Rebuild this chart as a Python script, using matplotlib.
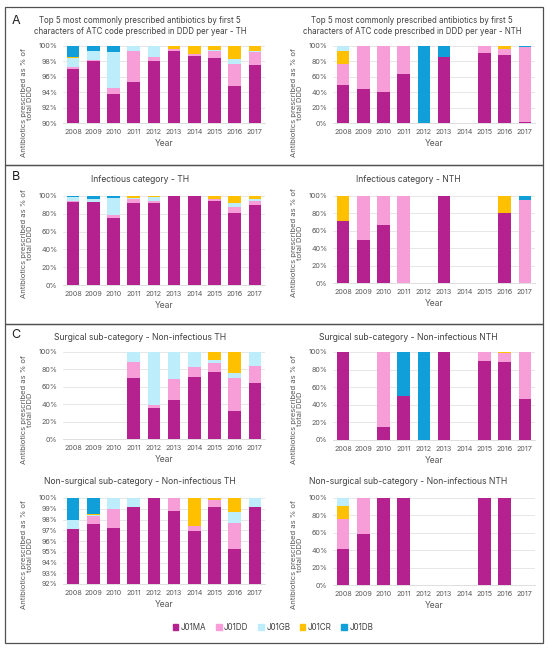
import matplotlib
matplotlib.use("Agg")
import matplotlib.pyplot as plt
import matplotlib.patches as mpatches
from matplotlib.ticker import FuncFormatter

plt.rcParams['font.family'] = ['Inter', 'DejaVu Sans']

# Dados
anos = ['2008', '2009', '2010', '2011', '2012', '2013', '2014', '2015', '2016', '2017']
codigos = ['J01MA', 'J01DD', 'J01GB', 'J01CR', 'J01DB']
cores = {'J01MA': '#B5218F', 'J01DD': '#F79ED9', 'J01GB': '#BDEDFA',
         'J01CR': '#FFC000', 'J01DB': '#109FD9'}

# A - TH (altura de cada segmento, % do DDD total)
a_th_ma = [97.05, 98.1, 93.75, 95.3, 98.1, 99.4, 98.7, 98.4, 94.8, 97.5]
a_th_dd = [0.25, 0.05, 0.75, 4.0, 0.5, 0.25, 0.2, 0.9, 2.9, 1.7]
a_th_gb = [1.2, 1.25, 4.7, 0.7, 1.4, 0.0, 0.0, 0.2, 0.6, 0.2]
a_th_cr = [0.1, 0.0, 0.0, 0.0, 0.0, 0.35, 1.1, 0.5, 1.7, 0.6]
a_th_db = [1.4, 0.6, 0.8, 0.0, 0.0, 0.0, 0.0, 0.0, 0.0, 0.0]

# A - NTH
a_nth_ma = [49.4, 43.7, 40.7, 63.6, 0, 85.7, 0, 90.9, 88.3, 1.0]
a_nth_dd = [27.6, 56.3, 59.3, 36.4, 0, 0, 0, 9.1, 7.7, 97.3]
a_nth_gb = [7.0, 0, 0, 0, 0, 0, 0, 0, 0, 0]
a_nth_cr = [16.0, 0, 0, 0, 0, 0, 0, 0, 4.0, 0]
a_nth_db = [0, 0, 0, 0, 100, 14.3, 0, 0, 0, 1.7]

# B - TH
b_th_ma = [93.7, 93.0, 75.7, 92.2, 92.2, 100, 100, 94.8, 81.0, 90.3]
b_th_dd = [1.1, 0.2, 3.0, 4.1, 1.8, 0, 0, 1.5, 7.0, 4.5]
b_th_gb = [3.7, 3.8, 19.1, 1.8, 5.3, 0, 0, 0.7, 3.7, 2.2]
b_th_cr = [0.5, 0, 0, 1.9, 0.7, 0, 0, 3.0, 8.3, 3.0]
b_th_db = [1.0, 3.0, 2.2, 0, 0, 0, 0, 0, 0, 0]

# B - NTH
b_nth_ma = [71.3, 50.0, 66.7, 0, 0, 100, 0, 0, 80.2, 0]
b_nth_dd = [0, 50.0, 33.3, 100, 0, 0, 0, 0, 0, 95.7]
b_nth_gb = [0, 0, 0, 0, 0, 0, 0, 0, 0, 0]
b_nth_cr = [28.7, 0, 0, 0, 0, 0, 0, 0, 19.8, 0]
b_nth_db = [0, 0, 0, 0, 0, 0, 0, 0, 0, 4.3]

# C - cirúrgico TH
cs_th_ma = [0, 0, 0, 69.8, 35.7, 45.3, 71.3, 77.1, 32.6, 64.7]
cs_th_dd = [0, 0, 0, 19.0, 3.4, 23.3, 12.0, 9.7, 37.9, 19.0]
cs_th_gb = [0, 0, 0, 11.2, 60.9, 31.4, 16.7, 3.9, 5.9, 16.3]
cs_th_cr = [0, 0, 0, 0, 0, 0, 0, 9.3, 23.6, 0]
cs_th_db = [0, 0, 0, 0, 0, 0, 0, 0, 0, 0]

# C - cirúrgico NTH
cs_nth_ma = [100, 0, 15.2, 49.8, 0, 100, 0, 89.4, 88.2, 46.8]
cs_nth_dd = [0, 0, 84.8, 0, 0, 0, 0, 10.6, 10.3, 53.2]
cs_nth_gb = [0, 0, 0, 0, 0, 0, 0, 0, 0, 0]
cs_nth_cr = [0, 0, 0, 0, 0, 0, 0, 0, 1.5, 0]
cs_nth_db = [0, 0, 0, 50.2, 100, 0, 0, 0, 0, 0]

# C - não cirúrgico TH
cn_th_ma = [97.1, 97.57, 97.2, 99.2, 100, 98.83, 96.95, 99.14, 95.26, 99.14]
cn_th_dd = [0, 0.71, 1.8, 0, 0, 1.17, 0.4, 0.64, 2.37, 0]
cn_th_gb = [0.84, 0.15, 1.0, 0.8, 0, 0, 0, 0, 1.05, 0.86]
cn_th_cr = [0.06, 0.07, 0, 0, 0, 0, 2.65, 0.22, 1.32, 0]
cn_th_db = [2.0, 1.5, 0, 0, 0, 0, 0, 0, 0, 0]

# C - não cirúrgico NTH
cn_nth_ma = [41.4, 59.0, 100, 100, 0, 0, 0, 100, 100, 0]
cn_nth_dd = [34.5, 41.0, 0, 0, 0, 0, 0, 0, 0, 0]
cn_nth_gb = [9.2, 0, 0, 0, 0, 0, 0, 0, 0, 0]
cn_nth_cr = [14.9, 0, 0, 0, 0, 0, 0, 0, 0, 0]
cn_nth_db = [0, 0, 0, 0, 0, 0, 0, 0, 0, 0]

W, H = 550, 650
fig = plt.figure(figsize=(W / 100, H / 100), dpi=100)


def eixo(x0, y0, x1, y1):
    return fig.add_axes([x0 / W, 1 - y1 / H, (x1 - x0) / W, (y1 - y0) / H])


def grafico(ax, series, ordem, ymin, ymax, passo, y_rot):
    x = range(len(anos))
    base = [0.0] * len(anos)
    for cod in ordem:
        vals = series[cod]
        ax.bar(x, vals, bottom=base, width=0.62, color=cores[cod], zorder=3)
        base = [b + v for b, v in zip(base, vals)]
    ax.set_ylim(ymin, ymax)
    ax.set_xlim(-0.5, len(anos) - 0.5)
    ticks = list(range(ymin, ymax + 1, passo))
    ax.set_yticks(ticks)
    ax.yaxis.set_major_formatter(FuncFormatter(lambda v, p: f'{v:.0f}%'))
    ax.set_xticks(list(x))
    ax.set_xticklabels(anos)
    ax.grid(axis='y', color='#E3E3E3', lw=0.6, zorder=0)
    for s in ['top', 'right', 'left']:
        ax.spines[s].set_visible(False)
    ax.spines['bottom'].set_color('#D9D9D9')
    ax.spines['bottom'].set_linewidth(0.6)
    ax.tick_params(length=0, labelsize=5.2, labelcolor='#595959', pad=4)
    ax.set_xlabel('Year', fontsize=6.2, color='#595959', labelpad=3)
    ax.set_ylabel('Antibiotics prescribed as % of\ntotal DDD', fontsize=5.5,
                  color='#595959', linespacing=1.05, va='center')
    ax.yaxis.set_label_coords(-0.18, y_rot)


def titulo(xc, y, texto, tam=6.2):
    fig.text(xc / W, 1 - y / H, texto, ha='center', va='center', fontsize=tam,
             color='#404040', linespacing=1.3)


ord_padrao = ['J01MA', 'J01DD', 'J01GB', 'J01CR', 'J01DB']
ord_nth = ['J01MA', 'J01DD', 'J01CR', 'J01GB', 'J01DB']

# Painel A
ax = eixo(63, 46, 265, 123)
grafico(ax, dict(zip(codigos, [a_th_ma, a_th_dd, a_th_gb, a_th_cr, a_th_db])), ord_padrao, 90, 100, 2, 0.26)
titulo(140, 26, 'Top 5 most commonly prescribed antibiotics by first 5\ncharacters of ATC code prescribed in DDD per year - TH', 5.7)
ax = eixo(333, 46, 535, 123)
grafico(ax, dict(zip(codigos, [a_nth_ma, a_nth_dd, a_nth_gb, a_nth_cr, a_nth_db])), ord_nth, 0, 100, 20, 0.26)
titulo(412, 26, 'Top 5 most commonly prescribed antibiotics by first 5\ncharacters of ATC code prescribed in DDD per year - NTH', 5.7)

# Painel B
ax = eixo(63, 196, 265, 285)
grafico(ax, dict(zip(codigos, [b_th_ma, b_th_dd, b_th_gb, b_th_cr, b_th_db])), ord_padrao, 0, 100, 20, 0.47)
titulo(140, 180, 'Infectious category - TH')
ax = eixo(333, 196, 535, 283)
grafico(ax, dict(zip(codigos, [b_nth_ma, b_nth_dd, b_nth_gb, b_nth_cr, b_nth_db])), ord_padrao, 0, 100, 20, 0.46)
titulo(408, 180, 'Infectious category - NTH')

# Painel C
ax = eixo(63, 352, 265, 439)
grafico(ax, dict(zip(codigos, [cs_th_ma, cs_th_dd, cs_th_gb, cs_th_cr, cs_th_db])), ord_padrao, 0, 100, 20, 0.34)
titulo(140, 338, 'Surgical sub-category - Non-infectious TH')
ax = eixo(333, 352, 535, 440)
grafico(ax, dict(zip(codigos, [cs_nth_ma, cs_nth_dd, cs_nth_gb, cs_nth_cr, cs_nth_db])), ord_padrao, 0, 100, 20, 0.35)
titulo(408, 338, 'Surgical sub-category - Non-infectious NTH')
ax = eixo(63, 498, 265, 584)
grafico(ax, dict(zip(codigos, [cn_th_ma, cn_th_dd, cn_th_gb, cn_th_cr, cn_th_db])), ord_padrao, 92, 100, 1, 0.34)
titulo(140, 482, 'Non-surgical sub-category - Non-infectious TH')
ax = eixo(333, 498, 535, 585)
grafico(ax, dict(zip(codigos, [cn_nth_ma, cn_nth_dd, cn_nth_gb, cn_nth_cr, cn_nth_db])), ord_nth, 0, 100, 20, 0.35)
titulo(408, 482, 'Non-surgical sub-category - Non-infectious NTH')

# Molduras dos painéis
for (y0, y1) in [(7, 165), (165, 324), (324, 643)]:
    fig.add_artist(mpatches.Rectangle((5 / W, 1 - y1 / H), 538 / W, (y1 - y0) / H,
                                      transform=fig.transFigure, fill=False,
                                      edgecolor='#505050', lw=0.9))

for letra, y in [('A', 21), ('B', 177), ('C', 335)]:
    fig.text(16 / W, 1 - y / H, letra, ha='center', va='center', fontsize=9, color='#202020')

# Legenda
handles = [mpatches.Patch(color=cores[c], label=c) for c in codigos]
fig.legend(handles=handles, loc='center', bbox_to_anchor=(273 / W, 1 - 627 / H), ncol=5,
           frameon=False, fontsize=5.8, handlelength=0.7, handleheight=0.7,
           handletextpad=0.3, columnspacing=1.2, labelcolor='#404040')

fig.savefig('out.png', dpi=100)
